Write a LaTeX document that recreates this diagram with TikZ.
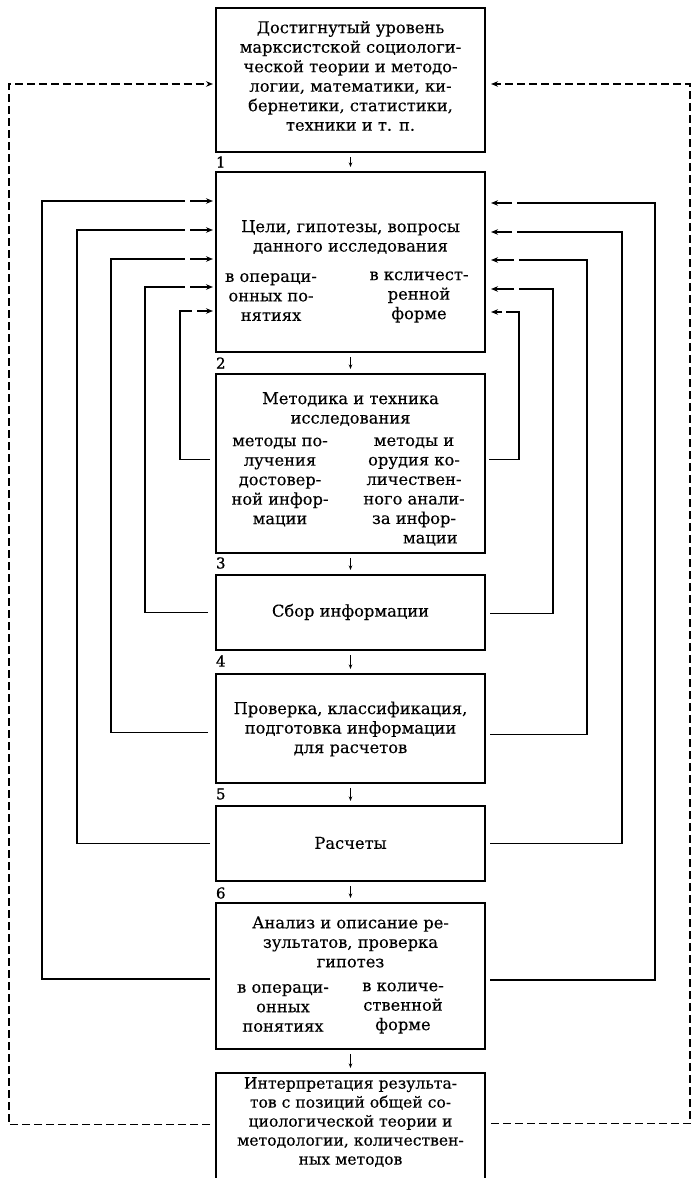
\documentclass[tikz,border=0pt]{standalone}
\usepackage{fontspec}
\setmainfont{DejaVu Serif}[FakeBold=0.25]
\newfontfamily\numfont{DejaVu Serif}[FakeBold=1]
\usetikzlibrary{arrows.meta}
\begin{document}
\begin{tikzpicture}[x=1pt,y=-1pt,
  every node/.style={inner sep=0pt, outer sep=0pt},
  box/.style={draw, line width=1.3pt, minimum width=269pt, anchor=north},
  txt/.style={align=center, font=\fontsize{16.3}{19.5}\selectfont},
  num/.style={anchor=west, font=\numfont\fontsize{15}{15}\selectfont},
  ln/.style={line width=1.4pt},
  arr/.style={line width=1.4pt, -{Stealth[length=7pt,width=5.5pt]}},
  darr/.style={line width=1.1pt, -{Stealth[length=4.5pt,width=3.5pt]}, shorten <=5pt, shorten >=5pt},
  dsh/.style={line width=1.4pt, dash pattern=on 8pt off 4pt, -{Stealth[length=7pt,width=5.5pt]}}]
\useasboundingbox (0,0) rectangle (692,1178);

% boxes
\node[box, minimum height=144pt] (b1) at (350.5,8) {};
\node[box, minimum height=180pt] (b2) at (350.5,172) {};
\node[box, minimum height=179pt] (b3) at (350.5,374) {};
\node[box, minimum height=75pt]  (b4) at (350.5,575) {};
\node[box, minimum height=109pt] (b5) at (350.5,674) {};
\node[box, minimum height=75pt]  (b6) at (350.5,806) {};
\node[box, minimum height=146pt] (b7) at (350.5,903) {};
\node[anchor=north, minimum width=269pt, minimum height=105pt] (b8) at (350.5,1073) {};
\draw[line width=1.3pt] (b8.south west) -- (b8.north west) -- (b8.north east) -- (b8.south east);

% texts
\node[txt] (t1) at (350.5,76) {Достигнутый уровень\\марксистской социологи-\\ческой теории и методо-\\логии, математики, ки-\\бернетики, статистики,\\техники и т. п.};
\node[txt] (t2) at (350.5,237) {Цели, гипотезы, вопросы\\данного исследования};
\node[txt] (t2l) at (271,297) {в операци-\\онных по-\\нятиях};
\node[txt] (t2r) at (419,297) {в кcличест-\\ренной\\форме};
\node[txt] (t3) at (350.5,409) {Методика и техника\\исследования};
\node[txt] (t3l) at (280,482) {методы по-\\лучения\\достовер-\\ной инфор-\\мации};
\node[txt] (t3r) at (414,491.5) {методы и\\орудия ко-\\личествен-\\ного анали-\\за инфор-\\\hspace*{2em}мации};
\node[txt] (t4) at (350.5,612) {Сбор информации};
\node[txt] (t5) at (350.5,729) {Проверка, классификация,\\подготовка информации\\для расчетов};
\node[txt] (t6) at (350.5,843) {Расчеты};
\node[txt] (t7) at (350.5,942) {Анализ и описание ре-\\зультатов, проверка\\гипотез};
\node[txt] (t7l) at (283,1008) {в операци-\\онных\\понятиях};
\node[txt] (t7r) at (403,1008) {в количе-\\ственной\\форме};
\node[txt, font=\fontsize{15.6}{19}\selectfont] (t8) at (350.5,1122) {Интерпретация результа-\\тов с позиций общей со-\\циологической теории и\\методологии, количествен-\\ных методов};

% numbers
\node[num] (n1) at (216,162) {1};
\node[num] (n2) at (216,363) {2};
\node[num] (n3) at (216,563) {3};
\node[num] (n4) at (216,661) {4};
\node[num] (n5) at (216,794) {5};
\node[num] (n6) at (216,893) {6};

% down arrows
\draw[darr] (b1.south) -- (b2.north);
\draw[darr] (b2.south) -- (b3.north);
\draw[darr] (b3.south) -- (b4.north);
\draw[darr] (b4.south) -- (b5.north);
\draw[darr] (b5.south) -- (b6.north);
\draw[darr] (b6.south) -- (b7.north);
\draw[darr] (b7.south) -- (b8.north);

% left feedback loops
\draw[ln] ([xshift=-6pt,yshift=-3pt]b7.west) -| (42,201) -- (185,201);
\draw[arr, shorten >=3pt] (190,201) -- (b2.west |- 0,201);
\draw[ln] ([xshift=-6pt]b6.west) -| (77,230) -- (185,230);
\draw[arr, shorten >=3pt] (190,230) -- (b2.west |- 0,230);
\draw[ln] ([xshift=-8pt,yshift=-4pt]b5.west) -| (111,259) -- (185,259);
\draw[arr, shorten >=3pt] (190,259) -- (b2.west |- 0,259);
\draw[ln] ([xshift=-8pt]b4.west) -| (145,287) -- (185,287);
\draw[arr, shorten >=3pt] (190,287) -- (b2.west |- 0,287);
\draw[ln] ([xshift=-6pt,yshift=4pt]b3.west) -| (180,311) -- (192,311);
\draw[arr, shorten >=3pt] (197,311) -- (b2.west |- 0,311);

% right feedback loops
\draw[ln] ([xshift=5pt,yshift=-4pt]b7.east) -| (655,203) -- (517,203);
\draw[arr, shorten >=6pt] (512,203) -- (b2.east |- 0,203);
\draw[ln] ([xshift=5pt]b6.east) -| (622,232) -- (517,232);
\draw[arr, shorten >=6pt] (512,232) -- (b2.east |- 0,232);
\draw[ln] ([xshift=5pt,yshift=-6pt]b5.east) -| (587,260) -- (519,260);
\draw[arr, shorten >=6pt] (514,260) -- (b2.east |- 0,260);
\draw[ln] ([xshift=5pt,yshift=-1pt]b4.east) -| (553,289) -- (519,289);
\draw[arr, shorten >=6pt] (514,289) -- (b2.east |- 0,289);
\draw[ln] ([xshift=4pt,yshift=4pt]b3.east) -| (519,312) -- (506,312);
\draw[arr, shorten >=6pt] (502,312) -- (b2.east |- 0,312);

% dashed outer loops
\draw[dsh, shorten >=3pt] ([xshift=-6pt,yshift=1pt]b8.west) -| (9,84) -- ([yshift=-4pt]b1.west);
\draw[dsh, shorten >=6pt] ([xshift=6pt,yshift=2pt]b8.east) -| (690,84) -- ([yshift=-4pt]b1.east);
\end{tikzpicture}
\end{document}
